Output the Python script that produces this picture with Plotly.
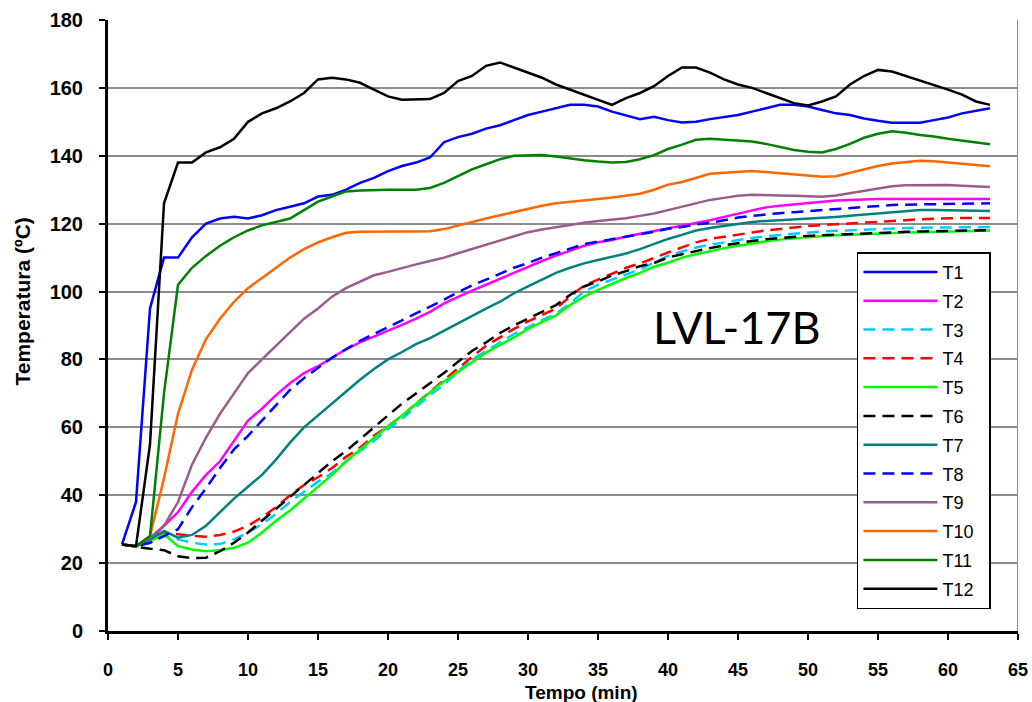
import plotly.graph_objects as go

# Time axis (minutes)
tempo = list(range(1, 64))

T1 = [25.5, 38, 95, 110, 110, 116, 120, 121.5, 122, 121.5, 122.5, 124, 125, 126, 128, 128.5, 130, 132, 133.5, 135.5,
      137, 138, 139.5, 144, 145.5, 146.5, 148, 149, 150.5, 152, 153, 154, 155, 155, 154.5, 153, 152, 150.8, 151.5, 150.5,
      149.8, 150, 150.8, 151.5, 152, 153, 154, 155, 155, 154.5, 153.5, 152.5, 152, 151, 150.3, 149.7, 149.7, 149.7, 150.5, 151.3,
      152.5, 153.3, 154]
T2 = [25.5, 25, 27, 31, 35, 41, 46, 50, 56, 62, 65.5, 69.5, 73, 76, 78, 80.5, 83, 85, 86.7, 88.3,
      90.2, 92, 94, 96.5, 98.5, 100.3, 102, 103.8, 105.5, 107.3, 109, 110.6, 112, 113.5, 114.5, 115.2, 116.2, 117, 117.8, 118.5,
      119.3, 120.2, 121, 122, 123, 124, 124.8, 125.3, 125.7, 126, 126.3, 126.8, 127, 127.2, 127.3, 127.3, 127.3, 127.3, 127.3, 127.3,
      127.3, 127.3, 127.3]
T3 = [25.5, 25, 26, 28, 27, 26, 25.5, 25.6, 27, 29, 31.5, 34.5, 38, 41, 44, 46.5, 50, 53, 56, 59.5,
      62.5, 66, 69.5, 72.5, 76.5, 80, 82.5, 85, 87.5, 89.5, 91.5, 93.5, 96.5, 100, 102, 103.5, 105, 106.5, 108.5, 110.5,
      111.8, 113, 113.8, 114.5, 115.2, 115.8, 116.3, 116.7, 117.1, 117.5, 117.7, 117.9, 118.1, 118.3, 118.5, 118.6, 118.7, 118.8, 118.8, 118.9,
      118.9, 119, 119]
T4 = [25.5, 25, 26.5, 28.8, 28.5, 28, 27.8, 28.3, 29.3, 31, 33.5, 36.5, 40, 43, 45.3, 48, 51.3, 54, 57.5, 60.5,
      63.3, 67, 70.5, 74, 77.5, 80.8, 84, 86.6, 89, 91.2, 93, 95, 98.5, 101.8, 103.5, 105.3, 107, 108.3, 110, 111.5,
      113, 114.5, 115.5, 116.2, 116.8, 117.4, 118, 118.5, 118.9, 119.3, 119.6, 119.8, 120, 120.3, 120.5, 120.7, 121, 121.3, 121.5, 121.6,
      121.7, 121.7, 121.7]
T5 = [25.5, 25, 26.5, 28.5, 25, 24, 23.5, 23.8, 24.5, 26, 29, 32.5, 35.5, 39, 42.5, 46, 50, 53.5, 57, 60.3,
      63.5, 67, 70.3, 73.5, 76.3, 79.2, 82, 84.3, 86.5, 89, 91, 93, 96, 98.5, 100.5, 102.3, 104, 105.5, 107.3, 108.5,
      110, 111, 112, 112.8, 113.5, 114.2, 114.8, 115.3, 115.7, 116.1, 116.4, 116.6, 116.8, 117, 117.2, 117.3, 117.4, 117.5, 117.6, 117.7,
      117.8, 117.9, 118]
T6 = [25.5, 24.8, 24.2, 23.8, 22, 21.5, 21.6, 23.5, 26, 29, 32.5, 36, 39.5, 43, 46.5, 50, 53, 56.5, 60, 63.5,
      67, 70, 73, 76, 79.3, 82.5, 85, 87.8, 90, 92, 94, 96, 99, 101.5, 103, 104.7, 106, 107.5, 108.4, 110,
      111, 112, 112.8, 113.6, 114.3, 114.9, 115.4, 115.8, 116.1, 116.4, 116.6, 116.8, 117, 117.2, 117.3, 117.4, 117.6, 117.7, 117.8, 117.9,
      118, 118, 118.1]
T7 = [25.5, 25, 27, 29.5, 27.5, 28.3, 31, 35, 39, 42.5, 46, 50.5, 55.5, 60, 63.5, 67, 70.5, 74, 77.2, 80,
      82.2, 84.5, 86.3, 88.5, 90.8, 92.8, 95, 97, 99.5, 101.5, 103.5, 105.5, 107, 108.3, 109.3, 110.2, 111.2, 112.5, 114, 115.5,
      116.7, 118, 118.7, 119.3, 120, 120.5, 120.8, 121, 121.3, 121.5, 121.7, 122, 122.3, 122.6, 123, 123.4, 123.7, 124, 124, 124,
      123.9, 123.8, 123.7]
T8 = [25.5, 25, 26, 28, 30, 36.5, 42, 48, 53.5, 57.5, 62, 66.5, 71, 74.5, 77.5, 80.5, 83, 85.5, 87.5, 89.5,
      91.5, 93.5, 95.5, 97.6, 99.8, 101.8, 103.5, 105.3, 107, 108.4, 110, 111.3, 112.6, 114, 114.7, 115.4, 116.3, 117, 117.6, 118.5,
      119, 119.8, 120.2, 121, 121.8, 122.3, 122.8, 123.1, 123.4, 123.7, 124, 124.3, 124.6, 125, 125.2, 125.5, 125.6, 125.7, 125.8, 125.9,
      126, 126, 126]
T9 = [25.5, 25, 27.5, 31, 38, 49, 57, 64, 70, 76, 80, 84, 88, 92, 95, 98.5, 101, 103, 104.8, 105.8,
      107, 108, 109, 110, 111.3, 112.5, 113.8, 115, 116.3, 117.5, 118.3, 119, 119.8, 120.3, 120.8, 121.2, 121.6, 122.3, 123, 124,
      125, 126, 127, 127.6, 128.2, 128.5, 128.5, 128.3, 128.2, 128, 127.9, 128.3, 129, 129.8, 130.4, 131, 131.3, 131.4, 131.4, 131.4,
      131.2, 131, 130.8]
T10 = [25.5, 25, 28, 45, 64, 77, 86, 92, 97, 101, 104, 107, 110, 112.5, 114.5, 116, 117.3, 117.6, 117.7, 117.7,
       117.7, 117.7, 117.8, 118.4, 119.5, 120.5, 121.5, 122.5, 123.5, 124.3, 125.3, 126, 126.5, 127, 127.3, 127.7, 128.2, 128.8, 130, 131.5,
       132.3, 133.5, 134.7, 135, 135.3, 135.5, 135.2, 134.8, 134.4, 134, 133.8, 134, 135, 136, 137, 137.7, 138.2, 138.5, 138.4, 138,
       137.7, 137.3, 136.9]
T11 = [25.5, 25, 28, 70, 102, 107, 110.5, 113.5, 116, 118, 119.5, 120.5, 121.5, 124, 126.5, 128, 129.5, 129.8, 130, 130,
       130, 130, 130.5, 132, 134, 136, 137.5, 139, 140, 140.2, 140.2, 139.8, 139.2, 138.7, 138.3, 138, 138.2, 139, 140.2, 142,
       143.3, 144.7, 145, 144.8, 144.5, 144.2, 143.5, 142.5, 141.7, 141.2, 141, 142, 143.5, 145.3, 146.5, 147.2, 146.8, 146.1, 145.7, 145,
       144.4, 143.9, 143.4]
T12 = [25.5, 25, 55, 126, 138, 138, 141, 142.5, 145, 150, 152.5, 154, 156, 158.5, 162.5, 163, 162.5, 161.5, 159.5, 157.5,
       156.5, 156.5, 156.7, 158.5, 162, 163.5, 166.5, 167.5, 166, 164.5, 163, 161, 159.5, 158, 156.5, 155, 157, 158.5, 160.5, 163.5,
       166, 166, 164.5, 162.5, 161, 160, 158.5, 157, 155.5, 154.8, 156, 157.5, 161, 163.5, 165.3, 164.8, 163.5, 162.3, 161, 159.5,
       158, 156, 155]

series_names = ["T1", "T2", "T3", "T4", "T5", "T6", "T7", "T8", "T9", "T10", "T11", "T12"]
series_values = [T1, T2, T3, T4, T5, T6, T7, T8, T9, T10, T11, T12]
series_colors = ["#0000FF", "#FF00FF", "#00CCFF", "#FF0000", "#00FF00", "#000000",
                 "#008080", "#0000FF", "#9B5B8B", "#FF6600", "#008000", "#000000"]
series_dash = ["solid", "solid", "12px,7px", "12px,7px", "solid", "12px,7px",
               "solid", "12px,7px", "solid", "solid", "solid", "solid"]

fig = go.Figure()
for name, vals, col, dash in zip(series_names, series_values, series_colors, series_dash):
    fig.add_trace(go.Scatter(
        x=tempo, y=vals, name=name + "\u00a0\u00a0", legendgroup=name, mode="lines",
        line=dict(color=col, width=2.5, dash=dash),
    ))

FONT = "Liberation Sans, Arial"

fig.update_layout(
    width=1032, height=702,
    margin=dict(l=108, r=14, t=20, b=71),
    paper_bgcolor="white", plot_bgcolor="white",
    showlegend=True,
    legend=dict(
        x=0.823, y=0.62, xanchor="left", yanchor="top",
        bgcolor="white", bordercolor="black", borderwidth=1.5,
        font=dict(family=FONT, size=18, color="black"),
        itemwidth=74, tracegroupgap=2.4,
    ),
    xaxis=dict(
        range=[0, 65], dtick=5, tick0=0, automargin=False,
        showgrid=False, zeroline=False,
        showline=True, linecolor="black", linewidth=3,
        ticks="outside", ticklen=6, tickwidth=2, tickcolor="black",
        tickfont=dict(family=FONT, size=18, color="black", weight="bold"),
        ticklabelstandoff=14,
    ),
    yaxis=dict(
        range=[0, 180], dtick=20, tick0=0, automargin=False,
        showgrid=True, gridcolor="#8C8C8C", gridwidth=2,
        zeroline=False,
        showline=True, linecolor="black", linewidth=3,
        ticks="outside", ticklen=6, tickwidth=2, tickcolor="black",
        tickfont=dict(family=FONT, size=20, color="black", weight="bold"),
        ticklabelstandoff=12,
    ),
)

# right-hand frame of the plot area
fig.add_shape(type="line", xref="x", yref="paper", x0=65, x1=65, y0=0, y1=1,
              line=dict(color="#8C8C8C", width=2))

# axis titles
fig.add_annotation(
    x=0.52, y=-0.1, xref="paper", yref="paper", text="<b>Tempo (min)</b>",
    showarrow=False, xanchor="center", yanchor="middle",
    font=dict(family=FONT, size=19, color="black"),
)
fig.add_annotation(
    x=-0.094, y=0.54, xref="paper", yref="paper", text="<b>Temperatura (ºC)</b>",
    showarrow=False, textangle=-90, xanchor="center", yanchor="middle",
    font=dict(family=FONT, size=21, color="black"),
)

fig.add_annotation(
    x=44.9, y=89.7, xref="x", yref="y", text="LVL-17B", showarrow=False,
    font=dict(family="Lato, Open Sans", size=45, color="black"),
)

fig.write_html("out.html")
